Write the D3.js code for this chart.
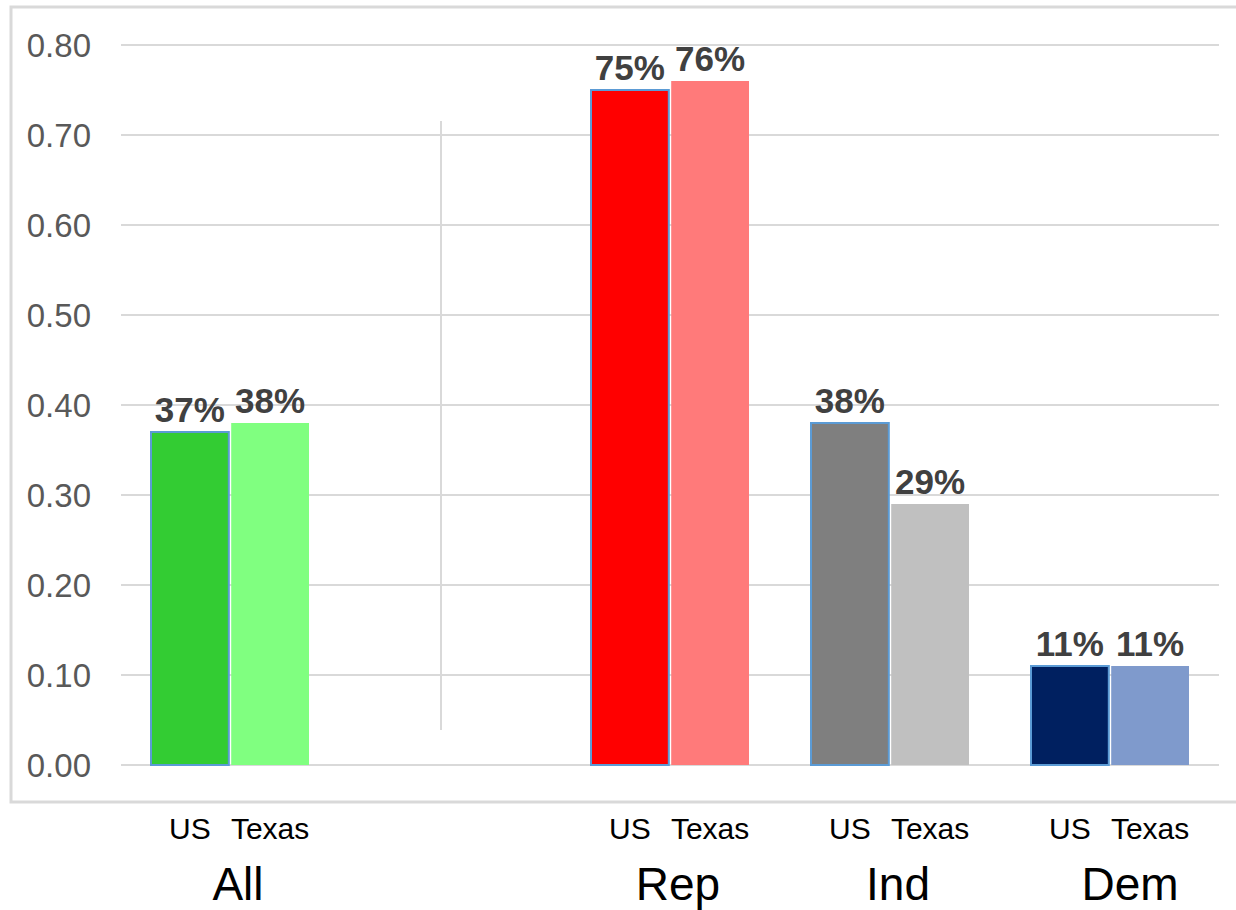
<!DOCTYPE html>
<html>
<head>
<meta charset="utf-8">
<script src="https://cdn.jsdelivr.net/npm/d3@7/dist/d3.min.js"></script>
<style>
  html, body { margin: 0; padding: 0; background: #fff; }
  svg { display: block; font-family: "Liberation Sans", Arial, sans-serif; }
</style>
</head>
<body>
<svg id="chart" width="1236" height="910"></svg>
<script>
// ---- data ----
const groups = ["All", "", "Rep", "Ind", "Dem"];
const series = ["US", "Texas"];
const usValues = [0.37, null, 0.75, 0.38, 0.11];
const texasValues = [0.38, null, 0.76, 0.29, 0.11];
const usColors = ["#33cc33", null, "#ff0000", "#7f7f7f", "#002060"];
const texasColors = ["#80ff80", null, "#ff7a7a", "#c0c0c0", "#7f9acc"];
const yTicks = [0, 0.1, 0.2, 0.3, 0.4, 0.5, 0.6, 0.7, 0.8];

const svg = d3.select("#chart");

// outer frame
svg.append("rect")
  .attr("x", 11).attr("y", 7)
  .attr("width", 1240).attr("height", 795)
  .attr("fill", "none").attr("stroke", "#d9d9d9").attr("stroke-width", 3);

const x = d3.scaleBand().domain(groups).range([120, 1220]);
const xSub = d3.scaleBand().domain(series).range([31, 189]).paddingInner(0.03);
const y = d3.scaleLinear().domain([0, 0.8]).range([765, 45]);

// gridlines
svg.append("g").selectAll("line").data(yTicks).join("line")
  .attr("x1", 121).attr("x2", 1219)
  .attr("y1", d => y(d)).attr("y2", d => y(d))
  .attr("stroke", "#d9d9d9").attr("stroke-width", 2);

// y tick labels
svg.append("g").selectAll("text").data(yTicks).join("text")
  .attr("x", 91).attr("y", d => y(d))
  .attr("text-anchor", "end").attr("dominant-baseline", "central")
  .attr("font-size", 33).attr("fill", "#595959")
  .text(d => d3.format(".2f")(d));

// separator line in the empty category
svg.append("line")
  .attr("x1", x("") + x.bandwidth() / 2 - 9).attr("x2", x("") + x.bandwidth() / 2 - 9)
  .attr("y1", 121).attr("y2", 730)
  .attr("stroke", "#d9d9d9").attr("stroke-width", 2);

// build records
const recs = [];
groups.forEach((g, i) => {
  if (usValues[i] != null) recs.push({g, s: "US", v: usValues[i], c: usColors[i]});
  if (texasValues[i] != null) recs.push({g, s: "Texas", v: texasValues[i], c: texasColors[i]});
});

// bars
svg.append("g").selectAll("rect").data(recs).join("rect")
  .attr("x", d => x(d.g) + xSub(d.s))
  .attr("y", d => y(d.v))
  .attr("width", xSub.bandwidth())
  .attr("height", d => y(0) - y(d.v))
  .attr("fill", d => d.c)
  .attr("stroke", d => d.s === "US" ? "#5b9bd5" : "none")
  .attr("stroke-width", 2);

// value labels
svg.append("g").selectAll("text").data(recs).join("text")
  .attr("x", d => x(d.g) + xSub(d.s) + xSub.bandwidth() / 2)
  .attr("y", d => y(d.v) - 10)
  .attr("text-anchor", "middle")
  .attr("font-size", 35).attr("font-weight", "bold").attr("fill", "#404040")
  .text(d => Math.round(d.v * 100) + "%");

// series labels under bars
svg.append("g").selectAll("text").data(recs).join("text")
  .attr("x", d => x(d.g) + xSub(d.s) + xSub.bandwidth() / 2)
  .attr("y", 839)
  .attr("text-anchor", "middle")
  .attr("font-size", 30).attr("fill", "#000")
  .text(d => d.s);

// group labels
svg.append("g").selectAll("text").data(groups.filter(g => g !== "")).join("text")
  .attr("x", d => x(d) + x.bandwidth() / 2 + (d === "Dem" ? 20 : 8))
  .attr("y", 900)
  .attr("text-anchor", "middle")
  .attr("font-size", 46).attr("fill", "#000")
  .text(d => d);
</script>
</body>
</html>
